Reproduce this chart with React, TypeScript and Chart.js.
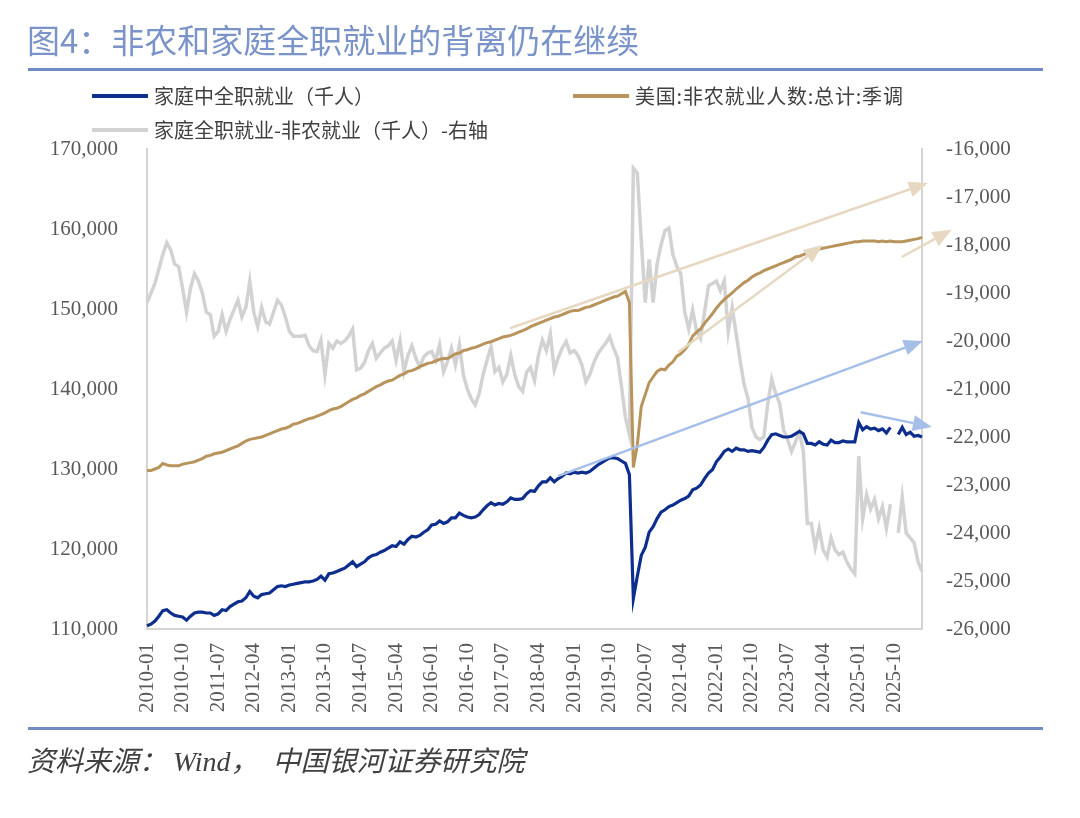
import { useEffect, useRef } from "react";
import { Chart, registerables } from "chart.js";

Chart.register(...registerables);

// Household full-time employment (thousands), monthly from 2010-01
const householdFullTime: (number | null)[] = [
  110400, 110600, 111000, 111600, 112300, 112400, 112000, 111700, 111600, 111500, 111100, 111600,
  112000, 112100, 112100, 112000, 112000, 111700, 111900, 112400, 112300, 112800, 113100, 113400,
  113500, 113900, 114700, 114100, 113900, 114300, 114400, 114500, 114900, 115300, 115400, 115300,
  115500, 115600, 115700, 115800, 115900, 115900, 116000, 116200, 116600, 116100, 116900, 117000,
  117200, 117400, 117600, 118000, 118400, 117800, 118100, 118400, 118900, 119200, 119300, 119600,
  119800, 120100, 120400, 120300, 120900, 120600, 121200, 121600, 121500, 121700, 122100, 122400,
  123000, 123100, 123500, 123200, 123400, 123900, 123900, 124500, 124200, 124000, 123900, 124000,
  124300, 124900, 125400, 125800, 125500, 125700, 125600, 125900, 126400, 126200, 126200, 126300,
  126900, 127300, 127200, 127900, 128400, 128400, 128900, 128400, 128800, 129100, 129500, 129400,
  129600, 129500, 129600, 129500, 129700, 130100, 130500, 130800, 131100, 131400, 131400, 131300,
  131000, 130700, 129300, 113800, 116600, 119200, 120200, 122100, 122800, 123800, 124600, 124900,
  125300, 125500, 125800, 126100, 126300, 126600, 127400, 127600, 128000, 128800, 129500, 129900,
  130900, 131500, 132200, 132500, 132200, 132600, 132400, 132400, 132200, 132300, 132200, 132100,
  132700, 133600, 134300, 134400, 134200, 134000, 134000, 134100, 134400, 134700, 134400, 133200,
  133200, 133000, 133400, 133100, 133000, 133600, 133300, 133300, 133500, 133400, 133400, 133400,
  135800, 134900, 135300, 135000, 135100, 134800, 135000, 134500, 135200, null, 134300, 135200,
  134300, 134600, 134100, 134200, 134000,
];

// Total nonfarm payrolls, seasonally adjusted (thousands)
const nonfarmPayrolls: number[] = [
  129800, 129800, 130000, 130200, 130700, 130500, 130400, 130400, 130400, 130600, 130700, 130800,
  130900, 131100, 131300, 131600, 131700, 131900, 132000, 132100, 132300, 132500, 132700, 132900,
  133200, 133500, 133700, 133800, 133900, 134000, 134200, 134400, 134600, 134800, 135000, 135100,
  135300, 135600, 135700, 135900, 136100, 136300, 136400, 136600, 136800, 137000, 137300, 137500,
  137600, 137800, 138100, 138400, 138700, 138900, 139200, 139400, 139700, 140000, 140300, 140500,
  140800, 141000, 141100, 141400, 141700, 141900, 142200, 142300, 142500, 142800, 143000, 143200,
  143300, 143500, 143700, 143800, 143800, 144100, 144400, 144500, 144800, 144900, 145100, 145200,
  145400, 145600, 145800, 145900, 146100, 146300, 146500, 146600, 146700, 146900, 147100, 147300,
  147500, 147800, 148000, 148200, 148400, 148600, 148800, 149000, 149100, 149300, 149500, 149700,
  149800, 149800, 150000, 150200, 150300, 150500, 150700, 150900, 151100, 151300, 151500, 151600,
  151900, 152200, 150800, 130200, 133000, 137800, 139300, 140800, 141500, 142200, 142500, 142400,
  143000, 143400, 144100, 144400, 144900, 145600, 146600, 147100, 147500, 148200, 148800, 149400,
  150100, 150700, 151200, 151600, 152000, 152500, 152900, 153300, 153600, 154000, 154300, 154500,
  154800, 155000, 155200, 155400, 155600, 155800, 156000, 156200, 156500, 156600, 156800, 157000,
  157100, 157300, 157500, 157600, 157700, 157800, 157900, 158000, 158100, 158200, 158300, 158400,
  158400, 158500, 158500, 158500, 158500, 158400, 158500, 158400, 158500, 158400, 158400, 158400,
  158500, 158600, 158700, 158800, 158950,
];

// Household full-time minus nonfarm (thousands), right axis
const fullTimeMinusNonfarm: (number | null)[] = [
  -19200, -19000, -18800, -18500, -18200, -17950, -18100, -18400, -18450, -18900, -19400, -18900,
  -18600, -18750, -19000, -19400, -19450, -19900, -19800, -19450, -19800, -19550, -19350, -19150,
  -19500, -19300, -18750, -19400, -19700, -19300, -19600, -19650, -19400, -19150, -19250, -19500,
  -19800, -19900, -19900, -19900, -19880, -20100, -20200, -20220, -19980, -20700, -20050, -20150,
  -20000, -20050, -20000, -19900, -19750, -20600, -20570, -20450, -20200, -20050, -20360, -20250,
  -20150, -20100, -20000, -20400, -20000, -20640, -20300, -20100, -20360, -20530, -20330, -20250,
  -20220, -20400, -20080, -20640, -20430, -20150, -20500, -20080, -20700, -21000, -21200, -21330,
  -21100, -20700, -20400, -20120, -20640, -20550, -20850, -20700, -20300, -20700, -20950, -21050,
  -20650, -20550, -20820, -20300, -19980, -20200, -19850, -20600, -20350, -20150, -20010, -20250,
  -20200, -20300, -20500, -20850, -20700, -20450, -20270, -20150, -20050, -19910, -20150, -20350,
  -20950, -21600, -21950, -16400, -16500, -17900, -19200, -18300, -19200, -18400, -18000, -17700,
  -17650, -18200, -18450, -18600, -19400, -19750, -19350, -19800, -19950, -19400, -18850, -18800,
  -18750, -18950, -18750, -19800, -19300, -19850, -20400, -20900, -21200, -21800, -22000, -22050,
  -22000, -21300, -20800, -21100, -21300, -21850, -22050, -22300, -22100, -21900, -22300, -23800,
  -23800, -24300, -23900, -24350, -24500, -24100, -24350, -24450, -24400, -24600, -24750, -24850,
  -22400, -23700, -23200, -23500, -23300, -23700, -23450, -23900, -23400, null, -24000, -23250,
  -24000, -24100, -24200, -24600, -24800,
];

const FIRST_YEAR = 2010;
const monthLabels: string[] = nonfarmPayrolls.map((_, k) => {
  const y = FIRST_YEAR + Math.floor(k / 12);
  const m = (k % 12) + 1;
  return `${y}-${String(m).padStart(2, "0")}`;
});
const LABEL_EVERY = 9;

const leftTicks = { min: 110000, max: 170000, step: 10000 };
const rightTicks = { min: -26000, max: -16000, step: 1000 };

const seriesNames = [
  "家庭中全职就业（千人）",
  "美国:非农就业人数:总计:季调",
  "家庭全职就业-非农就业（千人）-右轴",
];

// Trend arrows, in (month index, left-axis value) units
type Arrow = { from: [number, number]; to: [number, number]; color: string };
const trendArrows: Arrow[] = [
  { from: [91.8, 147600], to: [197.5, 165750], color: "#E7D8C2" },
  { from: [134.3, 144600], to: [170.9, 158000], color: "#E7D8C2" },
  { from: [190.9, 156500], to: [203.5, 159900], color: "#E7D8C2" },
  { from: [103.9, 129100], to: [196.2, 146000], color: "#A6BFE9" },
  { from: [180.5, 137100], to: [198.5, 135250], color: "#A6BFE9" },
];

const BLUE = "#0E2E8E";
const TAN = "#B8945C";
const GREY = "#D2D2D2";
const TICK_FONT = { family: "'Liberation Serif', 'DejaVu Serif', serif", size: 21 };
const TICK_COLOR = "#595959";
const AXIS_COLOR = "#D4D4D4";

const fmt = (v: number) => Math.round(v).toLocaleString("en-US");

const arrowPlugin = {
  id: "trendArrows",
  afterDatasetsDraw(chart: any) {
    const { ctx } = chart;
    const xs = chart.scales.x;
    const ys = chart.scales.yL;
    ctx.save();
    for (const a of trendArrows) {
      const x1 = xs.getPixelForValue(a.from[0]);
      const y1 = ys.getPixelForValue(a.from[1]);
      const x2 = xs.getPixelForValue(a.to[0]);
      const y2 = ys.getPixelForValue(a.to[1]);
      const ang = Math.atan2(y2 - y1, x2 - x1);
      const headLen = 19;
      const headHalf = 8;
      const bx = x2 - headLen * Math.cos(ang);
      const by = y2 - headLen * Math.sin(ang);
      ctx.strokeStyle = a.color;
      ctx.fillStyle = a.color;
      ctx.lineWidth = 2.5;
      ctx.beginPath();
      ctx.moveTo(x1, y1);
      ctx.lineTo(bx, by);
      ctx.stroke();
      ctx.beginPath();
      ctx.moveTo(x2, y2);
      ctx.lineTo(bx + headHalf * Math.sin(ang), by - headHalf * Math.cos(ang));
      ctx.lineTo(bx - headHalf * Math.sin(ang), by + headHalf * Math.cos(ang));
      ctx.closePath();
      ctx.fill();
    }
    ctx.restore();
  },
};

export default function App() {
  const canvasRef = useRef<HTMLCanvasElement | null>(null);

  useEffect(() => {
    if (!canvasRef.current) return;
    const chart = new Chart(canvasRef.current, {
      type: "line",
      data: {
        labels: monthLabels,
        datasets: [
          {
            label: seriesNames[0],
            data: householdFullTime,
            borderColor: BLUE,
            borderWidth: 3.2,
            pointRadius: 0,
            tension: 0,
            spanGaps: false,
            yAxisID: "yL",
          },
          {
            label: seriesNames[1],
            data: nonfarmPayrolls,
            borderColor: TAN,
            borderWidth: 3,
            pointRadius: 0,
            tension: 0,
            yAxisID: "yL",
          },
          {
            label: seriesNames[2],
            data: fullTimeMinusNonfarm,
            borderColor: GREY,
            borderWidth: 3.5,
            pointRadius: 0,
            tension: 0,
            spanGaps: false,
            yAxisID: "yR",
          },
        ],
      },
      options: {
        responsive: false,
        animation: false,
        layout: { padding: { top: 149, left: 0, right: 0, bottom: 0 } },
        plugins: { legend: { display: false }, tooltip: { enabled: false } },
        scales: {
          x: {
            type: "category",
            offset: false,
            grid: { display: false, drawTicks: false },
            border: { display: true, color: AXIS_COLOR, width: 2 },
            ticks: {
              autoSkip: false,
              minRotation: 90,
              maxRotation: 90,
              padding: 14,
              color: TICK_COLOR,
              font: TICK_FONT,
              callback: (_v: any, i: number) => (i % LABEL_EVERY === 0 ? monthLabels[i] : ""),
            },
            afterFit: (s: any) => {
              s.height = 818 - 629;
            },
          },
          yL: {
            position: "left",
            min: leftTicks.min,
            max: leftTicks.max,
            grid: { display: false, drawTicks: false },
            border: { display: true, color: AXIS_COLOR, width: 2 },
            ticks: {
              stepSize: leftTicks.step,
              padding: 29,
              color: TICK_COLOR,
              font: TICK_FONT,
              callback: (v: any) => fmt(Number(v)),
            },
            afterFit: (s: any) => {
              s.width = 147;
            },
          },
          yR: {
            position: "right",
            min: rightTicks.min,
            max: rightTicks.max,
            grid: { display: false, drawTicks: false },
            border: { display: true, color: AXIS_COLOR, width: 2 },
            ticks: {
              stepSize: rightTicks.step,
              padding: 24,
              color: TICK_COLOR,
              font: TICK_FONT,
              callback: (v: any) => fmt(Number(v)),
            },
            afterFit: (s: any) => {
              s.width = 1080 - 922;
            },
          },
        },
      },
      plugins: [arrowPlugin],
    });
    return () => chart.destroy();
  }, []);

  const cjk = "'Noto Sans CJK SC', 'Noto Sans', sans-serif";
  const legendText: React.CSSProperties = {
    position: "absolute",
    fontFamily: cjk,
    fontSize: 20,
    color: "#404040",
    whiteSpace: "nowrap",
    lineHeight: "24px",
  };
  const legendLine = (color: string): React.CSSProperties => ({
    position: "absolute",
    width: 56,
    height: 4,
    background: color,
  });
  const rule: React.CSSProperties = {
    position: "absolute",
    left: 28,
    width: 1015,
    height: 3,
    background: "#6F8DC4",
  };

  return (
    <div style={{ position: "absolute", left: 0, top: 0, width: 1080, height: 818, background: "#fff", overflow: "hidden" }}>
      <canvas ref={canvasRef} width={1080} height={818} style={{ position: "absolute", left: 0, top: 0 }} />
      <div
        style={{
          position: "absolute",
          left: 27,
          top: 17,
          fontFamily: cjk,
          fontSize: 33,
          lineHeight: "44px",
          color: "#7A93C9",
          whiteSpace: "nowrap",
        }}
      >
        图4：非农和家庭全职就业的背离仍在继续
      </div>
      <div style={{ ...rule, top: 68 }} />
      <div style={{ ...legendLine(BLUE), left: 92, top: 94 }} />
      <div style={{ ...legendText, left: 154, top: 84 }}>{seriesNames[0]}</div>
      <div style={{ ...legendLine(TAN), left: 573, top: 94 }} />
      <div style={{ ...legendText, left: 635, top: 84, letterSpacing: 0.8 }}>{seriesNames[1]}</div>
      <div style={{ ...legendLine(GREY), left: 92, top: 128 }} />
      <div style={{ ...legendText, left: 154, top: 118 }}>{seriesNames[2]}</div>
      <div style={{ ...rule, top: 727 }} />
      <div
        style={{
          position: "absolute",
          left: 27,
          top: 743,
          fontFamily: "'Liberation Serif', 'Noto Sans CJK SC', serif",
          fontStyle: "italic",
          fontSize: 28,
          lineHeight: "38px",
          color: "#404040",
          whiteSpace: "nowrap",
          display: "flex",
        }}
      >
        <span>资料来源：</span>
        <span style={{ marginLeft: 6 }}>Wind</span>
        <span>，</span>
        <span style={{ marginLeft: 14 }}>中国银河证券研究院</span>
      </div>
    </div>
  );
}
